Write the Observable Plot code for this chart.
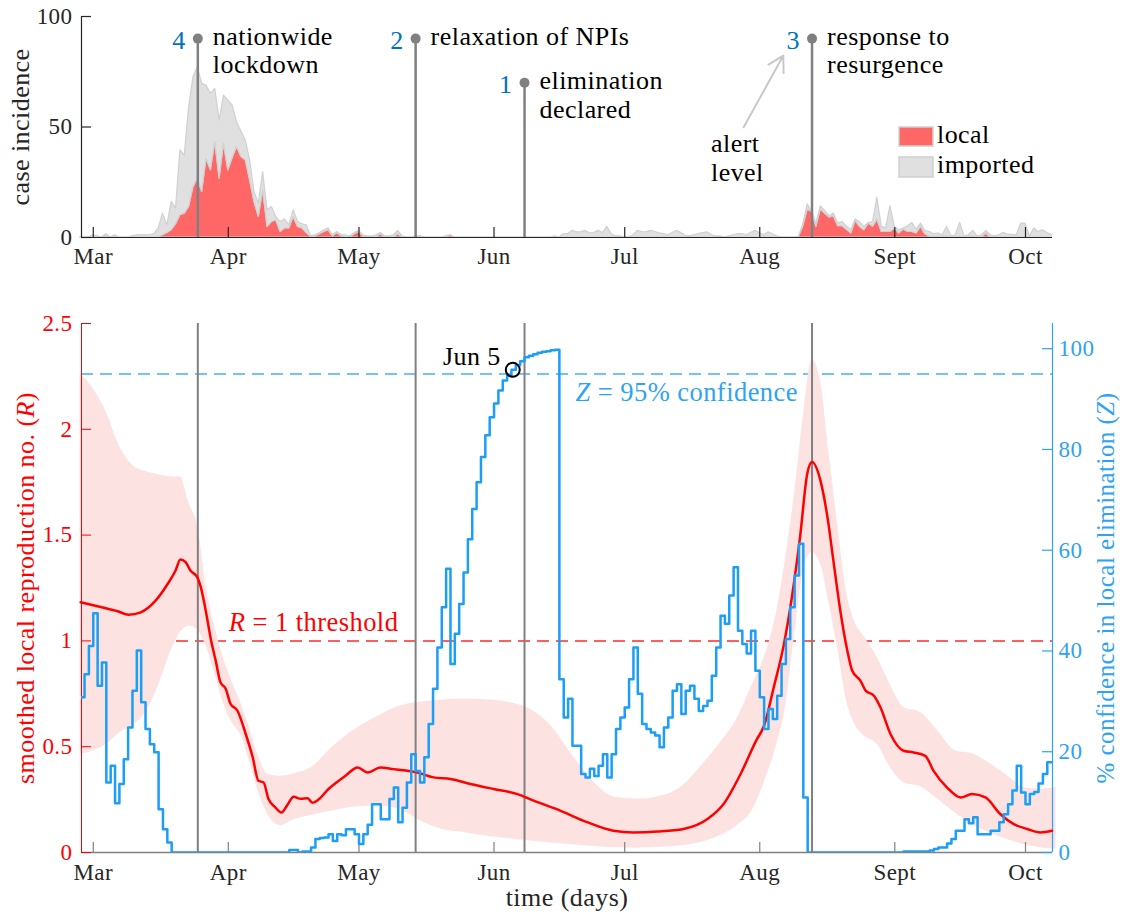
<!DOCTYPE html>
<html><head><meta charset="utf-8">
<script src="https://cdn.jsdelivr.net/npm/d3@7"></script>
<script src="https://cdn.jsdelivr.net/npm/@observablehq/plot@0.6"></script>
<style>
html,body{margin:0;padding:0;background:#fff;}
#wrap{position:relative;width:1123px;height:915px;overflow:hidden;background:#fff;}
#wrap svg{display:block;}
</style></head><body><div id="wrap"></div>
<script>
// ---------- DATA (day index: 0 = 1 March 2020) ----------
const monthDays = [0, 31, 61, 92, 122, 153, 184, 214];
const monthLabels = ["Mar", "Apr", "May", "Jun", "Jul", "Aug", "Sept", "Oct"];

const incStart = -3; // first day of the daily incidence arrays
const localCases = [
  0,0,0,0,0,0,0.5,0,0.5,0,
  0,0,0,0,0,0,0,0,0,1,
  2,3.3,6,10.1,10.8,13.8,22.8,26.6,20.6,35.5,
  30.4,43.1,26.6,42.4,30.4,36,40.9,36.4,34.9,25.9,
  16,9.3,21.3,4.8,7,7.8,2.5,4.1,4.1,9.3,
  4.8,4.1,2,0.3,0.5,1.5,2.5,3.3,0.5,2,
  0.5,0,0,1.5,2.5,0.5,0,0,0,1.5,
  0,0,0,1.5,0,0,0,0,0.5,0,
  0,0,0,0,0,1,0,0,0,0,
  0,0,0,0,0,0,0,0,0,0,
  0,0,0,0,0,0,0,0,0,0,
  0,0,0,0,0,0,0,0,0,0,
  0,0,0,0,0,0,0,0,0,0,
  0,0,0,0,0,0,0,0,0,0,
  0,0,0,0,0,0,0,0,0,0,
  0,0,0,0,0,0,0,0,0,0,
  0,0,0,0,0,0.3,5,12.6,11.6,4.8,
  12.6,10.8,9,9.6,5.1,5.1,3.5,1.8,7.5,4.8,
  3.3,6.3,4.8,8.1,2.5,2.5,2.5,4.1,1.8,3.6,
  2.5,2.5,1.8,4.8,1.5,0.5,0.3,0.3,0.3,0.3,
  0,0,0.3,0,0.3,0.5,0,0,1.8,0,
  0,0,0,0,0,0,0,0,0,0,
  0,0,0,0
];
const importedCases = [
  0,0,0,1,0.5,0,1,0,0.5,0,
  0,0,0.5,1,1,1,1,1.5,4,9.8,
  3.5,12.8,7.1,29.3,26.3,45.1,49.7,50.4,48.9,33.2,
  34.6,24.1,26.3,21.8,31.6,23.7,11.3,11.6,9,9,
  4.6,6,8.3,7.5,6.8,1.5,4.5,4,1.4,3,
  2.2,1.9,3.5,0.3,0.5,0.5,0.8,0.8,0.5,0.5,
  0.5,1,0.5,0.5,0.5,0.5,0.5,0.5,1,0.5,
  0.5,0.5,1,1.5,0.5,0,0,0.5,0,0,
  0,0,0,0,0.5,0,0,0,0,0,
  0,0,0,0,0,0,0,0,0,0,
  0,0,0,0,0,0,0,0,0,0.5,
  0,1.5,1.5,3,2.3,2.3,3,1.9,2,3,
  2,4.8,1.5,0.5,0.5,0,0,1,3,2.5,
  2.3,3,2.5,1.9,1.5,1,2,3,2,0.8,
  0.5,1,1.5,2,2.3,1,0.5,0.5,0,0.5,
  1,1.5,1.5,1,2,3,2,1,2.3,1.5,
  0.5,0,0,0,0,0,1,2.4,0,1.5,
  1.5,1.2,0.6,1.2,1.2,1.9,1.5,1.5,0.6,2.2,
  1.5,0.3,2.2,9.9,2.3,1.6,11.6,0.7,1.5,0.5,
  2.5,4.1,1.8,1.5,1.5,2,1.2,1.5,0.7,4.5,
  0.5,1,6.3,0.5,0.7,2.5,0.5,1,1.2,1,
  0.5,1,2.1,1.2,1.2,1,6.3,6.3,0.5,4.1,
  2.5,3.3,2,1.2
];

// events (alert level changes)
const eventDays = [24, 74, 99, 165];
const eventLevels = ["4", "2", "1", "3"];
const eventLabels = ["nationwide\nlockdown", "relaxation of NPIs", "elimination\ndeclared", "response to\nresurgence"];
const stemHeights = [90, 90, 70, 90];

// smoothed local reproduction number R
const rDays = [-2.9,1.7,5.6,8.1,10.9,14.3,17.1,18.9,20.0,21.2,22.3,23.9,24.6,26.2,26.9,28.1,29.2,30.4,31.5,33.1,35.0,36.6,37.9,39.1,40.2,41.8,43.2,44.6,46.0,47.6,49.2,50.3,51.7,54.0,55.6,57.9,60.7,63.0,65.9,68.9,74.4,78.1,82.0,86.6,91.9,97.4,101.1,107.3,113.5,119.4,124.0,129.5,135.5,141.0,144.7,148.6,152.2,154.0,156.2,158.5,160.4,162.3,163.9,165.0,166.9,168.5,170.0,171.6,173.1,174.2,176.1,177.3,179.2,180.7,183.0,186.0,188.3,191.0,192.9,196.0,199.1,201.7,204.8,208.2,211.3,214.4,217.4,220.1];
const rValues = [1.183,1.16,1.14,1.124,1.135,1.19,1.27,1.333,1.385,1.372,1.333,1.30,1.26,1.10,1.017,0.907,0.804,0.774,0.703,0.67,0.56,0.45,0.339,0.331,0.254,0.213,0.189,0.226,0.263,0.254,0.256,0.235,0.25,0.30,0.327,0.363,0.402,0.378,0.402,0.394,0.378,0.355,0.347,0.324,0.30,0.276,0.245,0.197,0.142,0.103,0.095,0.099,0.111,0.158,0.229,0.371,0.53,0.60,0.78,0.98,1.21,1.50,1.79,1.845,1.76,1.59,1.364,1.128,0.954,0.86,0.812,0.765,0.741,0.686,0.56,0.481,0.473,0.457,0.386,0.307,0.26,0.276,0.26,0.182,0.134,0.111,0.095,0.103];

// credible band of R
const bandDays = [-3,0,3,6,9,12,15,18,20,22,24,26,28,30,32,34,36,38,40,43,46,50,55,60,65,70,75,80,85,90,95,100,105,110,115,120,125,130,135,140,144,148,151,154,157,159,161,163,165,167,169,171,173,175,177,180,183,186,190,194,198,202,206,210,214,218,221];
const bandHi = [2.265,2.19,2.08,1.92,1.83,1.80,1.785,1.776,1.774,1.65,1.54,1.25,1.06,0.91,0.80,0.70,0.58,0.45,0.37,0.36,0.371,0.40,0.50,0.58,0.64,0.69,0.71,0.72,0.725,0.722,0.71,0.68,0.60,0.46,0.33,0.26,0.253,0.265,0.31,0.42,0.52,0.64,0.78,0.92,1.15,1.40,1.70,2.06,2.33,2.22,1.87,1.53,1.22,1.08,1.02,0.92,0.79,0.686,0.66,0.57,0.48,0.465,0.418,0.36,0.305,0.30,0.307];
const bandLo = [0.465,0.48,0.51,0.565,0.60,0.66,0.79,0.96,1.04,1.07,1.05,0.97,0.84,0.70,0.61,0.55,0.42,0.28,0.182,0.128,0.155,0.175,0.197,0.215,0.22,0.205,0.15,0.11,0.095,0.078,0.066,0.056,0.045,0.037,0.028,0.022,0.021,0.025,0.032,0.05,0.08,0.13,0.19,0.33,0.52,0.70,1.03,1.33,1.419,1.36,1.17,0.95,0.71,0.60,0.55,0.51,0.40,0.33,0.31,0.25,0.185,0.13,0.09,0.06,0.035,0.02,0.015];

// % confidence in local elimination Z: [day where value starts, value]
const zSteps = [
  [-3,30.8],[-2,35.4],[-1,41.0],[0,47.5],[1,33.1],[2,37.7],[3,13.9],[4,17.2],[5,9.8],[6,13.6],[7,18.5],[8,24.8],[9,32.1],[10,40.1],[11,29.8],[12,24.5],[13,21.5],[14,19.9],[15,8.6],[16,4.6],[17,2.0],[18,0],
  [45,0.5],[47,0],[48,0.2],[50,1.0],[51,2.7],[52,2.9],[53,3.0],[54,3.6],[55,2.3],[56,3.6],[57,3.4],[58,4.6],[60,3.6],[61,1.7],[62,3.6],[63,5.5],[64,9.6],[66,6.6],[68,10.6],[69,12.9],[70,6.0],
  [71,8.9],[72,13.9],[73,19.5],[74,16.2],[75,13.9],[76,18.9],[77,25.5],[78,32.5],[79,40.7],[80,48.7],[81,56.3],[82,37.4],[83,43.4],[84,49.3],[85,55.6],[86,62.2],[87,68.2],[88,73.5],[89,78.5],[90,82.8],[91,86.4],[92,89.1],[93,91.7],[94,93.7],[95,94.7],[96,95.8],[97,96.7],[98,97.5],[99,98.3],[100,98.6],[101,98.9],[102,99.2],[103,99.4],[104,99.5],[105,99.7],[106,99.8],
  [107,34.4],[108,26.8],[109,30.5],[110,21.2],[112,15.6],[113,14.9],[114,16.6],[115,15.2],[116,17.2],[117,19.5],[118,14.9],[119,19.5],[120,24.5],[121,26.8],[122,28.8],[123,34.4],[124,40.7],[125,31.5],[126,25.5],[127,24.5],[128,23.8],[129,23.2],[130,20.9],[131,24.8],[132,26.8],[133,32.1],[134,33.4],[135,27.5],[136,32.1],[137,33.1],[138,30.5],[139,28.1],[140,29.1],[141,30.1],[142,35.1],[143,40.7],[144,47.0],[145,45.4],[146,51.0],[147,56.6],[148,44.0],[149,41.4],[150,39.5],[151,44.0],[152,36.1],[153,30.8],[154,24.5],[155,28.5],[156,26.5],[157,31.1],[158,37.4],[159,42.4],[160,48.7],[161,55.0],[162,61.3],[163,10.9],[164,0],
  [186,0.2],[192,0.4],[193,0.7],[194,1.0],[196,1.8],[197,2.7],[198,4.3],[200,6.6],[201,5.8],[202,7.0],[203,3.6],[206,4.3],[208,6.0],[209,7.6],[210,9.6],[211,12.3],[212,17.2],[213,11.9],[214,9.6],[215,11.6],[216,12.0],[217,13.7],[218,15.6],[219,17.9],[221,17.9]
];

const rTicks = [0, 0.5, 1, 1.5, 2, 2.5];
const zTicks = [0, 20, 40, 60, 80, 100];
const caseTicks = [0, 50, 100];

// annotations
const alertNote = {day: 141.8, cases: 47.7, text: "alert\nlevel"};
const arrowNote = {d1: 149.3, c1: 49.9, d2: 158.4, c2: 82.3};
const jun5 = {day: 96.3, z: 95.8, text: "Jun 5"};
const rNote = {day: 31.1, r: 1, text: "R = 1 threshold"};
const zNote = {day: 110.7, z: 95, text: "Z = 95% confidence"};

// ---------- CHART ----------
const FONT = "'Liberation Serif', 'DejaVu Serif', serif";
const W = 1123, mL = 81, mR = 71;
const innerW = W - mL - mR;
const xDomain = [-2.7, 220.2];
const DARK = "#262626", GREY = "#808080", RED = "#ff0000", BLUE = "#1c9ef7", BLUE_AX = "#2ea3f2", LEVEL = "#0072bd";
const zToR = z => z * 2.5 / 105;
const STYLE = {fontFamily: FONT, fontSize: "22px", background: "#fff", overflow: "visible", letterSpacing: "0.45px"};

const incRows = [];
localCases.forEach((v, i) => incRows.push({day: incStart + i, series: "local", value: v}));
importedCases.forEach((v, i) => incRows.push({day: incStart + i, series: "imported", value: v}));
const events = eventDays.map((d, i) => ({day: d, level: eventLevels[i], label: eventLabels[i], top: stemHeights[i]}));
const rRows = rDays.map((d, i) => ({day: d, r: rValues[i]}));
const bandRows = bandDays.map((d, i) => ({day: d, lo: bandLo[i], hi: bandHi[i]}));
const zRows = zSteps.map(([day, z]) => ({day, z}));

const topH = 275, topMT = 16, topMB = 38;
const topInnerH = topH - topMT - topMB;

const topChart = Plot.plot({
  width: W, height: topH, marginLeft: mL, marginRight: mR, marginTop: topMT, marginBottom: topMB,
  style: STYLE,
  x: {domain: xDomain, axis: null},
  y: {domain: [0, 100], axis: null},
  color: {domain: ["local", "imported"], range: ["#ff6666", "#e0e0e0"]},
  marks: [
    Plot.areaY(incRows, {x: "day", y: "value", fill: "series", z: "series", order: ["local", "imported"], stroke: "#d0d0d0", strokeWidth: 1.2}),
    Plot.ruleY([0], {stroke: DARK, strokeWidth: 1.2}),
    Plot.ruleX([xDomain[0]], {stroke: DARK, strokeWidth: 1.2}),
    Plot.tickX(monthDays, {x: d => d, stroke: DARK, strokeWidth: 1.2, insetTop: topInnerH - 10}),
    Plot.tickY(caseTicks, {y: d => d, stroke: DARK, strokeWidth: 1.2, insetRight: innerW - 10}),
    Plot.text(monthDays, {x: d => d, text: (d, i) => monthLabels[i], frameAnchor: "bottom", dy: 26, lineAnchor: "bottom", fontSize: 23, fill: DARK}),
    Plot.text(caseTicks, {y: d => d, text: d => String(d), frameAnchor: "left", dx: -9, textAnchor: "end", lineAnchor: "middle", fontSize: 23, fill: DARK}),
    Plot.text(["case incidence"], {frameAnchor: "left", dx: -61, rotate: -90, textAnchor: "middle", lineAnchor: "middle", fontSize: 26, fill: DARK}),
    Plot.ruleX(events, {x: "day", y1: 0, y2: "top", stroke: GREY, strokeWidth: 2.5}),
    Plot.dot(events, {x: "day", y: "top", r: 5, fill: GREY}),
    Plot.text(events, {x: "day", y: "top", text: "level", textAnchor: "end", dx: -12, dy: 10, lineAnchor: "bottom", fill: LEVEL, fontSize: 26}),
    Plot.text(events, {x: "day", y: "top", text: "label", textAnchor: "start", dx: 15, dy: -14, lineAnchor: "top", lineHeight: 1.1, fill: "#000", fontSize: 26}),
    Plot.text([alertNote], {x: "day", y: "cases", text: "text", textAnchor: "start", lineAnchor: "top", lineHeight: 1.1, fill: "#000", fontSize: 26}),
    Plot.arrow([arrowNote], {x1: "d1", y1: "c1", x2: "d2", y2: "c2", stroke: "#c8c8c8", strokeWidth: 2, headLength: 13})
  ]
});

// legend
const lg = d3.select(topChart);
lg.append("rect").attr("x", 899).attr("y", 127).attr("width", 34).attr("height", 19).attr("fill", "#ff6666").attr("stroke", "#d0d0d0").attr("stroke-width", 1.5);
lg.append("rect").attr("x", 899).attr("y", 157).attr("width", 34).attr("height", 20).attr("fill", "#e0e0e0").attr("stroke", "#d0d0d0").attr("stroke-width", 1.5);
lg.append("text").attr("x", 937).attr("y", 143).attr("text-anchor", "start").attr("font-size", 26).attr("fill", "#000").text("local");
lg.append("text").attr("x", 937).attr("y", 173).attr("text-anchor", "start").attr("font-size", 26).attr("fill", "#000").text("imported");

const botH = 640, botMT = 48, botMB = 63;
const botInnerH = botH - botMT - botMB;

const botChart = Plot.plot({
  width: W, height: botH, marginLeft: mL, marginRight: mR, marginTop: botMT, marginBottom: botMB,
  style: STYLE,
  x: {domain: xDomain, axis: null},
  y: {domain: [0, 2.5], axis: null},
  marks: [
    Plot.ruleY([1], {stroke: "#ff2a2a", strokeWidth: 1.5, strokeDasharray: "12,7"}),
    Plot.ruleY([zToR(95)], {stroke: "#4aaef0", strokeWidth: 1.5, strokeDasharray: "12,7"}),
    Plot.areaY(bandRows, {x: "day", y1: "lo", y2: "hi", fill: "#fde2e2", curve: "monotone-x"}),
    Plot.ruleX(eventDays, {x: d => d, stroke: GREY, strokeWidth: 2}),
    Plot.ruleY([0], {stroke: GREY, strokeWidth: 1.5}),
    Plot.ruleX([xDomain[0]], {stroke: RED, strokeWidth: 1}),
    Plot.ruleX([xDomain[1]], {stroke: BLUE_AX, strokeWidth: 1.2}),
    Plot.tickX(monthDays, {x: d => d, stroke: GREY, strokeWidth: 1.2, insetTop: botInnerH - 10}),
    Plot.tickY(rTicks, {y: d => d, stroke: RED, strokeWidth: 1, insetRight: innerW - 10}),
    Plot.tickY(zTicks, {y: d => zToR(d), stroke: BLUE_AX, strokeWidth: 1.2, insetLeft: innerW - 10}),
    Plot.lineY(rRows, {x: "day", y: "r", stroke: RED, strokeWidth: 2.5, curve: "monotone-x"}),
    Plot.lineY(zRows, {x: "day", y: d => zToR(d.z), stroke: BLUE, strokeWidth: 2.5, curve: "step-after", clip: true}),
    Plot.dot([jun5], {x: "day", y: d => zToR(d.z), r: 7, stroke: "#000", strokeWidth: 2, fill: "none"}),
    Plot.text([jun5], {x: "day", y: d => zToR(d.z), text: "text", textAnchor: "end", dx: -12, dy: -5, lineAnchor: "bottom", fill: "#000", fontSize: 26}),
    Plot.text([rNote], {x: "day", y: "r", text: "text", textAnchor: "start", dy: -10, lineAnchor: "bottom", fill: RED, fontSize: 26.5}),
    Plot.text([zNote], {x: "day", y: d => zToR(d.z), text: "text", textAnchor: "start", dy: 27, lineAnchor: "bottom", fill: BLUE_AX, fontSize: 26.5}),
    Plot.text(monthDays, {x: d => d, text: (d, i) => monthLabels[i], frameAnchor: "bottom", dy: 27, lineAnchor: "bottom", fontSize: 23, fill: DARK}),
    Plot.text(rTicks, {y: d => d, text: d => String(d), frameAnchor: "left", dx: -9, textAnchor: "end", lineAnchor: "middle", fontSize: 23, fill: RED}),
    Plot.text(zTicks, {y: d => zToR(d), text: d => String(d), frameAnchor: "right", dx: 6, textAnchor: "start", lineAnchor: "middle", fontSize: 23, fill: BLUE_AX}),
    Plot.text(["time (days)"], {frameAnchor: "bottom", dy: 53, lineAnchor: "bottom", fontSize: 26, fill: DARK}),
    Plot.text(["smoothed local reproduction no. (R)"], {frameAnchor: "left", dx: -56, rotate: -90, textAnchor: "middle", lineAnchor: "middle", fontSize: 26, fill: RED}),
    Plot.text(["% confidence in local elimination (Z)"], {frameAnchor: "right", dx: 53, rotate: -90, textAnchor: "middle", lineAnchor: "middle", fontSize: 25, fill: BLUE_AX})
  ]
});

function richText(svg, content, parts) {
  d3.select(svg).selectAll("text").filter(function () { return this.textContent === content; }).each(function () {
    const t = d3.select(this);
    t.text(null);
    parts.forEach(([s, it]) => { const ts = t.append("tspan").text(s); if (it) ts.attr("font-style", "italic"); });
  });
}
richText(botChart, "R = 1 threshold", [["R", true], [" = 1 threshold", false]]);
richText(botChart, "Z = 95% confidence", [["Z", true], [" = 95% confidence", false]]);
richText(botChart, "smoothed local reproduction no. (R)", [["smoothed local reproduction no. (", false], ["R", true], [")", false]]);
richText(botChart, "% confidence in local elimination (Z)", [["% confidence in local elimination (", false], ["Z", true], [")", false]]);

const wrap = document.getElementById("wrap");
wrap.appendChild(topChart);
wrap.appendChild(botChart);
</script>
</body></html>
